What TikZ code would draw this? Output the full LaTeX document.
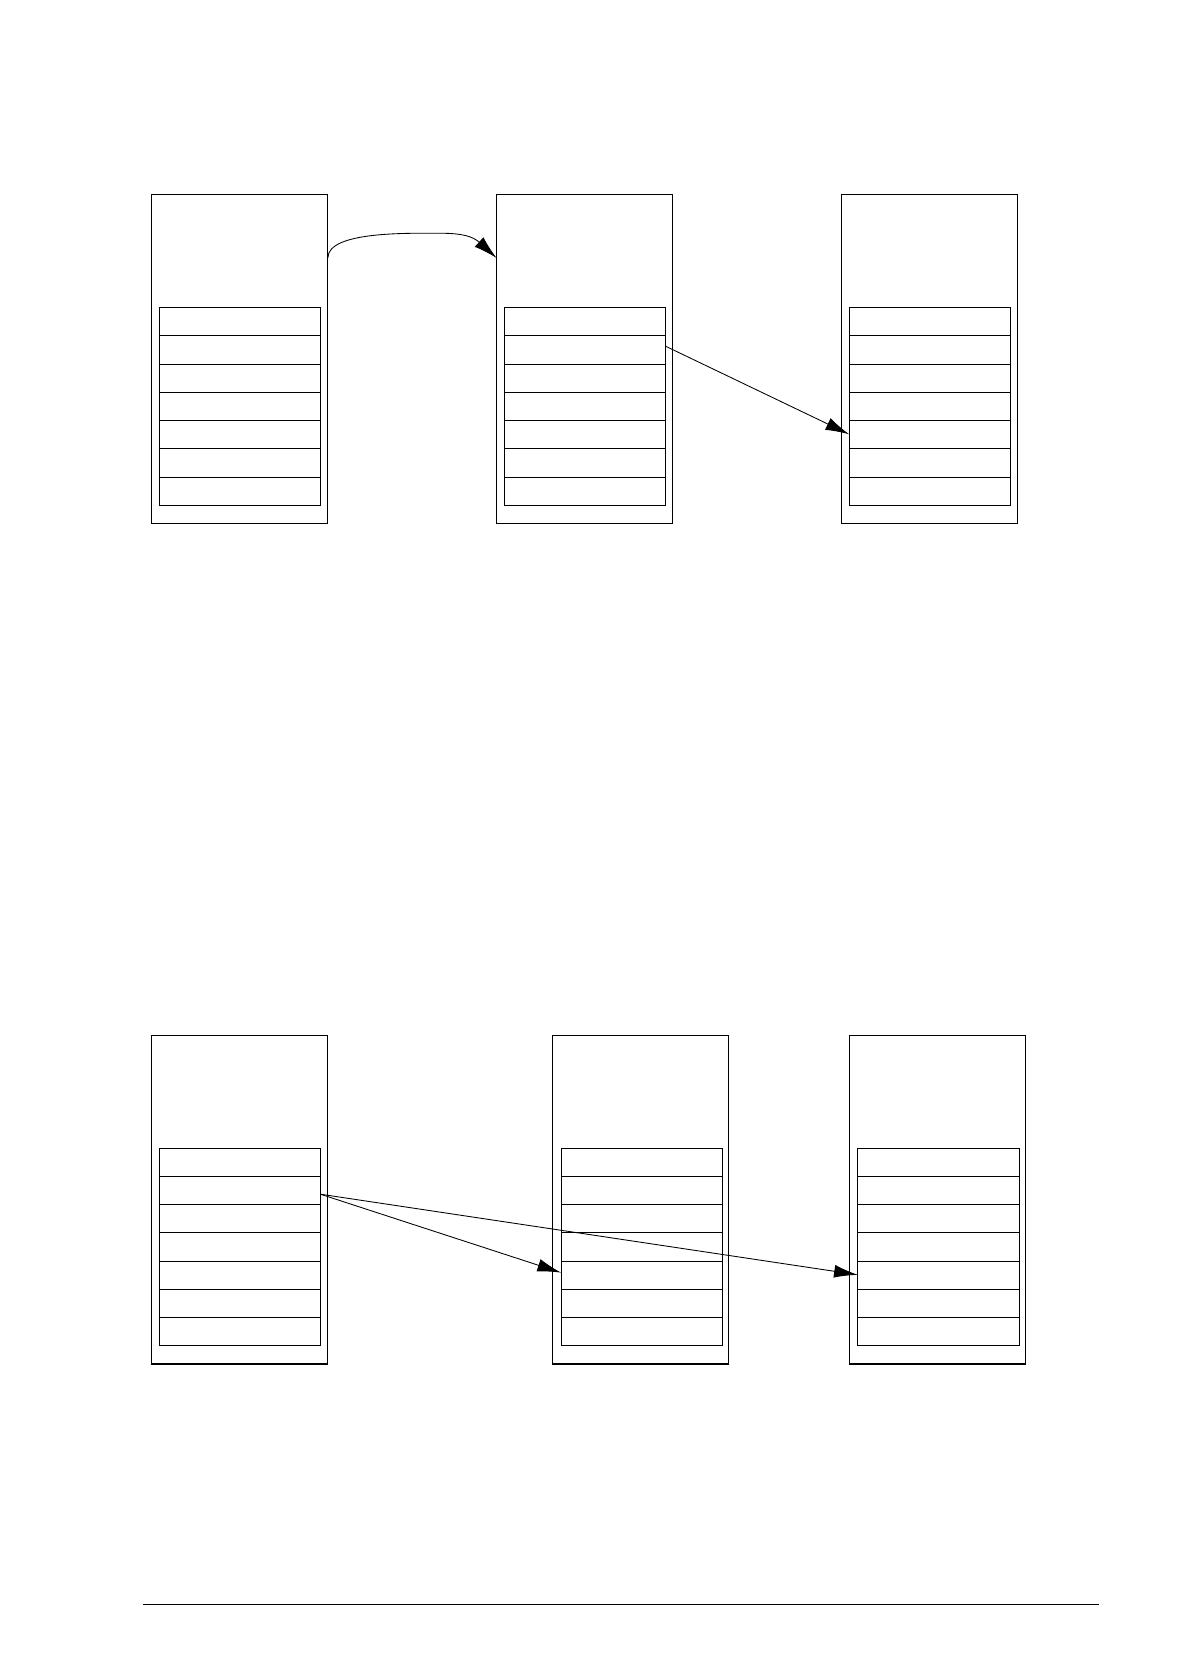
\documentclass[tikz,border=0pt]{standalone}
\usetikzlibrary{arrows.meta}
\begin{document}
\begin{tikzpicture}[x=1pt,y=-1pt,line width=0.8pt,
  arr/.style={-{Latex[length=22,width=12]}}]
\useasboundingbox (0,0) rectangle (1100,1563);
\newcommand{\mybox}[4]{% name, x, y top, table x
  \draw[line width=1pt] (#2,#3) rectangle ++(164,306);
  \foreach \i in {0,...,6}{\draw (#4,#3+105+\i*26.3) rectangle ++(150,26.3);}
  \coordinate (#1) at (#2,#3);}
\mybox{a}{141}{181}{148}
\mybox{b}{462}{181}{469}
\mybox{c}{783}{181}{790}
\mybox{d}{141}{963}{148}
\mybox{e}{514}{963}{522}
\mybox{f}{790}{963}{798}
\coordinate (a1) at (305,240);
\coordinate (b1) at (462,240);
\coordinate (b2) at (619,322);
\coordinate (c2) at (790,404);
\coordinate (d1) at (298,1111);
\coordinate (e1) at (522,1184);
\coordinate (f1) at (798,1186);
\draw[arr] (a1) .. controls (305,215) and (380,217) .. (410,217) .. controls (430,217) and (440,220) .. (b1);
\draw[arr] (b2) -- (c2);
\draw[arr] (d1) -- (e1);
\draw[arr] (d1) -- (f1);
\coordinate (l1) at (133,1493);
\coordinate (l2) at (1022,1493);
\draw[line width=1pt] (l1) -- (l2);
\end{tikzpicture}
\end{document}
